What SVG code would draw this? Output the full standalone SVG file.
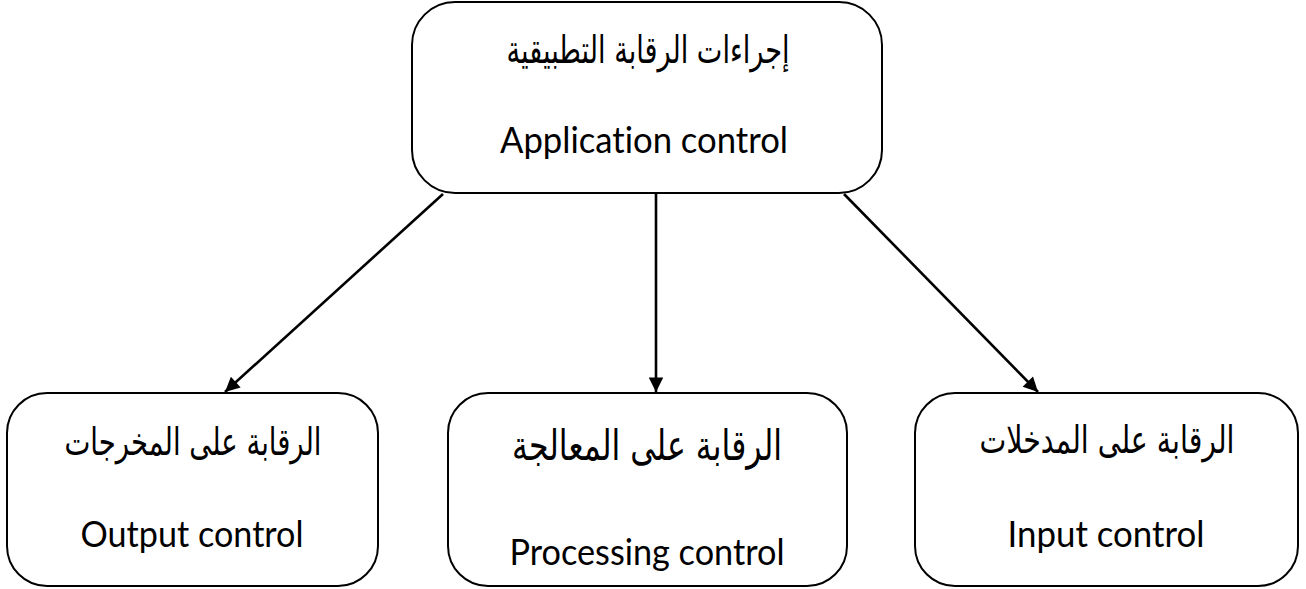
<svg xmlns="http://www.w3.org/2000/svg" width="1306" height="589" viewBox="0 0 1306 589">
<style>
.box{fill:#fff;stroke:#000;stroke-width:2}
.ar{font-family:"DejaVu Sans",sans-serif;font-size:38px;fill:#000;text-anchor:middle}
.en{font-family:Lato,"Open Sans",sans-serif;font-size:36px;fill:#000;text-anchor:middle;font-variant-ligatures:none}
.conn{stroke:#000;stroke-width:2.6;fill:none;marker-end:url(#ah)}
</style>
<defs>
<marker id="ah" viewBox="0 0 10 10" refX="10" refY="5" markerWidth="6.2" markerHeight="5.6" orient="auto" markerUnits="strokeWidth">
<path d="M0,0 L10,5 L0,10 z" fill="#000"/>
</marker>
</defs>
<g id="connectors">
<line class="conn" x1="443" y1="194" x2="225" y2="392"/>
<line class="conn" x1="656" y1="194" x2="656" y2="392"/>
<line class="conn" x1="844" y1="194" x2="1038" y2="392"/>
</g>
<g id="node-application">
<rect class="box" x="412" y="2" width="470" height="191" rx="43" ry="43"/>
<text class="ar" x="648" y="63" direction="rtl" textLength="283" lengthAdjust="spacingAndGlyphs">إجراءات الرقابة التطبيقية</text>
<text class="en" x="644" y="153" textLength="288" lengthAdjust="spacingAndGlyphs">Application control</text>
</g>
<g id="node-output">
<rect class="box" x="7" y="393" width="371" height="193" rx="40" ry="40"/>
<text class="ar" x="193" y="455" direction="rtl" textLength="257" lengthAdjust="spacingAndGlyphs">الرقابة على المخرجات</text>
<text class="en" x="192" y="547" textLength="223" lengthAdjust="spacingAndGlyphs">Output control</text>
</g>
<g id="node-processing">
<rect class="box" x="448" y="393" width="399" height="193" rx="40" ry="40"/>
<text class="ar" x="647" y="460" direction="rtl" style="font-size:42px" textLength="270" lengthAdjust="spacingAndGlyphs">الرقابة على المعالجة</text>
<text class="en" x="647" y="565" textLength="275" lengthAdjust="spacingAndGlyphs">Processing control</text>
</g>
<g id="node-input">
<rect class="box" x="915" y="393" width="383" height="193" rx="40" ry="40"/>
<text class="ar" x="1107" y="453" direction="rtl" textLength="255" lengthAdjust="spacingAndGlyphs">الرقابة على المدخلات</text>
<text class="en" x="1106" y="547" textLength="197" lengthAdjust="spacingAndGlyphs">Input control</text>
</g>
</svg>
